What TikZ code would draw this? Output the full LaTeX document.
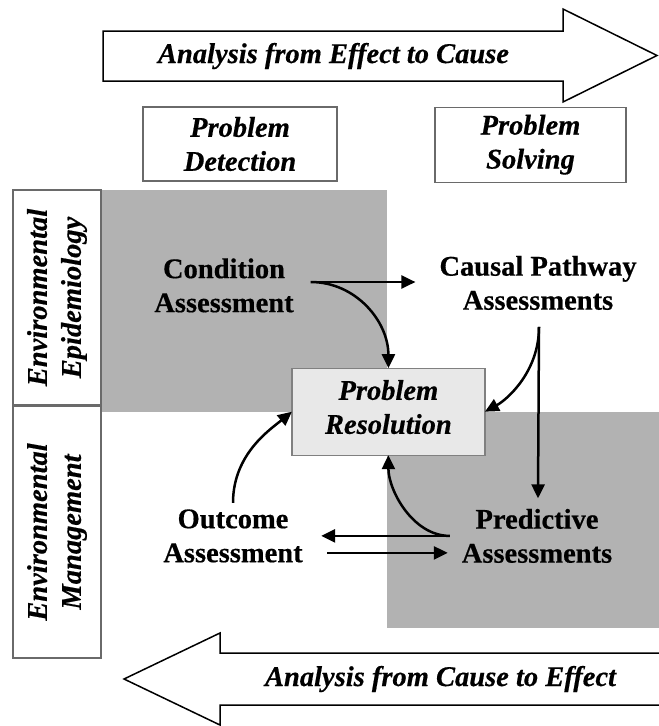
\documentclass[tikz,border=0pt]{standalone}
\usepackage{fontspec}
\setmainfont{Liberation Serif}[BoldFeatures={FakeBold=0.5},BoldItalicFeatures={FakeBold=0.5}]
\usetikzlibrary{arrows.meta,calc}
\definecolor{quadgray}{HTML}{B2B2B2}
\definecolor{resfill}{HTML}{E8E8E8}
\definecolor{boxline}{HTML}{6A6A6A}
\definecolor{resline}{HTML}{808080}
\begin{document}
\begin{tikzpicture}[x=1pt,y=-1pt,
  every node/.style={inner sep=0pt, outer sep=0pt, align=center},
  lbl/.style={font=\fontsize{28.5}{34}\selectfont\bfseries},
  ilbl/.style={font=\fontsize{28.5}{34}\selectfont\bfseries\itshape},
  bigarrow/.style={draw=black, line width=1.5pt, fill=white, line join=miter},
  headbox/.style={ilbl, draw=boxline, line width=1.4pt, fill=white},
  sidebox/.style={ilbl, draw=boxline, line width=1.4pt, fill=white, rotate=90},
  resbox/.style={ilbl, draw=resline, line width=1.4pt, fill=resfill},
  conn/.style={line width=2.5pt, -{Triangle[length=14pt,width=13pt]}},
]
\useasboundingbox (0,0) rectangle (659,726);

% shaded quadrants
\fill[quadgray] (100,190) rectangle (387,411.5);
\fill[quadgray] (387,411.5) rectangle (659,628);

% top arrow
\draw[bigarrow] (103,31) -- (563,31) -- (563,9) -- (657,55.5) -- (563,102) -- (563,81) -- (103,81) -- cycle;
\node[ilbl, anchor=base] (topt) at (333.5,63) {Analysis from Effect to Cause};

% bottom arrow
\draw[bigarrow] (668,653) -- (220,653) -- (220,633) -- (124,679) -- (220,725) -- (220,705) -- (668,705) -- cycle;
\node[ilbl, anchor=base] (bott) at (440.5,686) {Analysis from Cause to Effect};

% header boxes
\node[headbox, minimum width=194pt, minimum height=74pt] (pdet) at (240,144) {Problem\\Detection};
\node[headbox, minimum width=191pt, minimum height=75pt] (psol) at (530.5,144.7) {Problem\\Solving};

% side boxes
\node[sidebox, minimum width=215pt, minimum height=88pt] (epi) at (57,297.5) {Environmental\\Epidemiology};
\node[sidebox, minimum width=252pt, minimum height=88pt] (mgmt) at (57,532) {Environmental\\Management};

% central box
\node[resbox, minimum width=193pt, minimum height=87pt] (res) at (388.4,411.7) {Problem\\Resolution\rule[-9.6pt]{0pt}{0pt}};

% assessments
\node[lbl] (cond) at (224,285.4) {Condition\\Assessment};
\node[lbl] (causal) at (538,282.9) {Causal Pathway\\Assessments};
\node[lbl] (outc) at (233,535.9) {Outcome\\Assessment};
\node[lbl] (pred) at (537,535.9) {Predictive\\Assessments};

% connectors
\coordinate (co) at ($(cond.east)+(17,-3.4)$);
\draw[conn] (co) -- ($(causal.west |- co)+(-24,0)$);
\draw[conn] (co) .. controls ($(co)+(45,0)$) and ($(res.north)+(0,-47)$) .. (res.north);

\coordinate (cso) at ($(causal.south)+(1,17)$);
\draw[conn] (cso) .. controls ($(cso)+(0,45)$) and ($(res.east)+(22,-12)$) .. (res.east);
\draw[conn] (cso) -- ($(pred.north)+(1,-10.5)$);

\coordinate (po) at ($(pred.west)+(-12,0)$);
\draw[conn] (po) -- ($(outc.east |- po)+(18.5,0)$);
\draw[conn] (po) .. controls ($(po)+(-37,0)$) and ($(res.south)+(0,35)$) .. (res.south);
\draw[conn] ($(outc.east)+(24.5,17)$) -- ($(pred.west)+(-14,17)$);
\draw[conn] ($(outc.north)+(0,-6.5)$) .. controls ($(outc.north)+(0,-55)$) and ($(res.west)+(-22,18)$) .. (res.west);
\end{tikzpicture}
\end{document}
